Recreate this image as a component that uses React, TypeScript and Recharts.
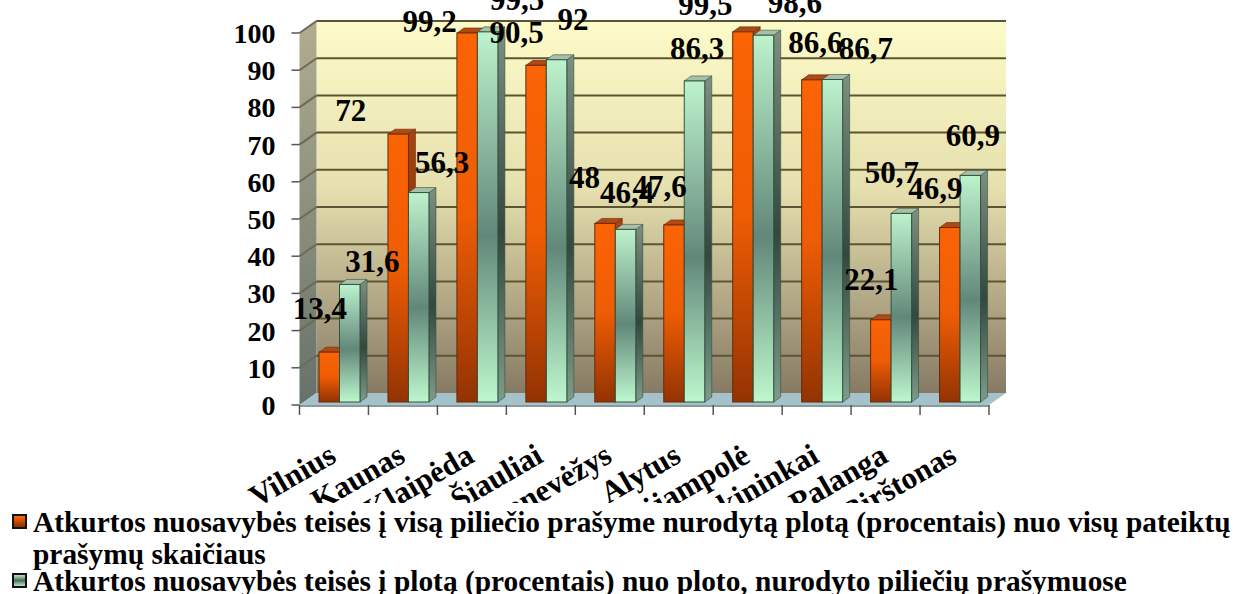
import { BarChart, Bar, XAxis, YAxis, CartesianGrid, Legend, LabelList } from "recharts";

const categories = ["Vilnius", "Kaunas", "Klaipėda", "Šiauliai", "Panevėžys", "Alytus", "Marijampolė", "Druskininkai", "Palanga", "Birštonas"];
const wholeArea = [13.4, 72, 99.2, 90.5, 48, 47.6, 99.5, 86.6, 22.1, 46.9];
const partArea = [31.6, 56.3, 99.5, 92, 46.4, 86.3, 98.6, 86.7, 50.7, 60.9];
const yTicks = [0, 10, 20, 30, 40, 50, 60, 70, 80, 90, 100];
const wholeName = "Atkurtos nuosavybės teisės į visą piliečio prašyme nurodytą plotą (procentais) nuo visų pateiktų prašymų skaičiaus";
const partName = "Atkurtos nuosavybės teisės į plotą (procentais) nuo ploto, nurodyto piliečių prašymuose";

// the old chart placed its value labels all over the place, so each one gets a nudge
const wholeNudge = [[-4, -47], [-42, -27], [-32, -15], [-14, -36], [-15, -49], [-9, -41], [-32, -30], [9, -40], [-4, -43], [-9, -42]];
const partNudge = [[28, -26], [29, -33], [35, -35], [22, -43], [7, -40], [8, -36], [37, -36], [39, -34], [-4, -44], [8, -43]];

const data = categories.map((name, i) => ({ name, whole: wholeArea[i], part: partArea[i] }));

const FONT = '"Liberation Serif", "Times New Roman", serif';
const W = 1234;
const H = 594;
const PLOT_L = 299.5;
const PLOT_R = 989;
const PLOT_T = 33;
const PLOT_B = 405;
const DEPTH_X = 17;
const DEPTH_Y = 12;
const STEP = (PLOT_R - PLOT_L) / categories.length;

// sits in its own svg under the chart, so the chart's grid lines stay on top of it
const Walls = () => (
  <svg width={W} height={H} style={{ position: "absolute", left: 0, top: 0 }}>
    <defs>
      <linearGradient id="wallFill" x1="0" y1="0" x2="0" y2="1">
        <stop offset="0" stopColor="#fdfbc9" />
        <stop offset="0.45" stopColor="#e6dfae" />
        <stop offset="1" stopColor="#877a64" />
      </linearGradient>
      <linearGradient id="sideFill" x1="0" y1="0" x2="0" y2="1">
        <stop offset="0" stopColor="#b1ad90" />
        <stop offset="1" stopColor="#66716a" />
      </linearGradient>
    </defs>
    <polygon
      points={`${PLOT_L + DEPTH_X},${PLOT_T - DEPTH_Y} ${PLOT_R + DEPTH_X},${PLOT_T - DEPTH_Y} ${PLOT_R + DEPTH_X},${PLOT_B - DEPTH_Y} ${PLOT_L + DEPTH_X},${PLOT_B - DEPTH_Y}`}
      fill="url(#wallFill)"
    />
    <polygon
      points={`${PLOT_L},${PLOT_T} ${PLOT_L + DEPTH_X},${PLOT_T - DEPTH_Y} ${PLOT_L + DEPTH_X},${PLOT_B - DEPTH_Y} ${PLOT_L},${PLOT_B}`}
      fill="url(#sideFill)"
    />
    <polygon
      points={`${PLOT_L},${PLOT_B} ${PLOT_L + DEPTH_X},${PLOT_B - DEPTH_Y} ${PLOT_R + DEPTH_X},${PLOT_B - DEPTH_Y} ${PLOT_R},${PLOT_B}`}
      fill="#a5c2cb"
    />
    <line x1={PLOT_L + DEPTH_X} x2={PLOT_R + DEPTH_X} y1={PLOT_T - DEPTH_Y} y2={PLOT_T - DEPTH_Y} stroke="#8b8b80" strokeWidth={2} />
    <line x1={PLOT_L} x2={PLOT_R} y1={PLOT_B + 1} y2={PLOT_B + 1} stroke="#8a9a9a" strokeWidth={2} />
  </svg>
);

const gridLine = (props: any) => {
  const { x1, x2, y1, key } = props;
  // nothing to draw on the floor line
  if (y1 >= PLOT_B - 1) return <g key={key} />;
  return (
    <g key={key}>
      <line x1={x1} y1={y1} x2={x1 + DEPTH_X} y2={y1 - DEPTH_Y} stroke="#6e6a56" strokeWidth={2} />
      <line x1={x1 + DEPTH_X} y1={y1 - DEPTH_Y} x2={x2 + DEPTH_X} y2={y1 - DEPTH_Y} stroke="#5c5534" strokeWidth={2} />
    </g>
  );
};

const makeBar = (front: string, side: string, top: string, edge: string) => (props: any) => {
  const { x, y, width, height } = props;
  const left = x + 5.5;
  const right = left + width;
  const up = y - 3;
  const low = up + height;
  const dx = 7;
  const dy = 5;
  return (
    <g>
      <polygon points={`${right},${up} ${right + dx},${up - dy} ${right + dx},${low - dy} ${right},${low}`} fill={side} stroke={edge} strokeWidth={0.6} />
      <polygon points={`${left},${up} ${left + dx},${up - dy} ${right + dx},${up - dy} ${right},${up}`} fill={top} stroke={edge} strokeWidth={0.6} />
      <rect x={left} y={up} width={width} height={height} fill={front} stroke={edge} strokeWidth={1} />
    </g>
  );
};

const OrangeBar = makeBar("url(#orangeFront)", "url(#orangeSide)", "#b04a12", "#6a2a08");
const GreenBar = makeBar("url(#greenFront)", "url(#greenSide)", "#a9bfa8", "#2f5342");

const nudgedLabel = (nudge: number[][]) => (props: any) => {
  const { x, y, width, value, index } = props;
  return (
    <text
      x={x + width / 2 + nudge[index][0]}
      y={y + nudge[index][1]}
      dy="0.34em"
      textAnchor="middle"
      fontFamily={FONT}
      fontWeight="bold"
      fontSize={31}
      fill="#000"
    >
      {String(value).replace(".", ",")}
    </text>
  );
};

const CategoryTick = (props: any) => {
  const { x, y, payload, index } = props;
  const left = x - STEP / 2;
  return (
    <g>
      <line x1={left} x2={left} y1={PLOT_B} y2={PLOT_B + 10} stroke="#555" strokeWidth={1.5} />
      {index === categories.length - 1 && (
        <line x1={x + STEP / 2} x2={x + STEP / 2} y1={PLOT_B} y2={PLOT_B + 10} stroke="#555" strokeWidth={1.5} />
      )}
      <text
        transform={`translate(${x + 4} ${y + 48}) rotate(-30)`}
        textAnchor="end"
        fontFamily={FONT}
        fontWeight="bold"
        fontSize={31}
        fill="#000"
      >
        {payload.value}
      </text>
    </g>
  );
};

const swatches = [
  "linear-gradient(#ff6a00, #8a3000)",
  "linear-gradient(#b9e8c2, #4f6f5c, #b9e8c2)",
];

const LegendBox = ({ payload }: any) => (
  <div style={{ background: "#fff", width: W, height: 91, position: "relative", fontFamily: FONT, fontWeight: "bold", fontSize: 29.4, color: "#000" }}>
    {(payload ?? []).map((entry: any, i: number) => (
      <div key={entry.value} style={{ position: "absolute", left: 33, top: i === 0 ? 3 : 62, width: 1198, lineHeight: "32px" }}>
        <span
          style={{
            position: "absolute",
            left: -21,
            top: 8,
            width: 11,
            height: 11,
            border: "2px solid #111",
            background: swatches[i],
          }}
        />
        {entry.value}
      </div>
    ))}
  </div>
);

export default function App() {
  return (
    <div style={{ position: "absolute", left: 0, top: 0, width: W, height: H, background: "#fff", overflow: "hidden" }}>
      <Walls />
      <BarChart
        width={W}
        height={H}
        data={data}
        barGap={0}
        barSize={20.5}
        margin={{ top: PLOT_T, right: W - PLOT_R, left: PLOT_L - 60, bottom: 38 }}
      >
        <defs>
          <linearGradient id="orangeFront" x1="0" y1="0" x2="0" y2="1">
            <stop offset="0" stopColor="#fb6405" />
            <stop offset="0.5" stopColor="#ee5c04" />
            <stop offset="1" stopColor="#933303" />
          </linearGradient>
          <linearGradient id="orangeSide" x1="0" y1="0" x2="0" y2="1">
            <stop offset="0" stopColor="#a8450f" />
            <stop offset="1" stopColor="#5e2206" />
          </linearGradient>
          <linearGradient id="greenFront" x1="0" y1="0" x2="0" y2="1">
            <stop offset="0" stopColor="#bdf3cc" />
            <stop offset="0.55" stopColor="#62877a" />
            <stop offset="1" stopColor="#bdf8cd" />
          </linearGradient>
          <linearGradient id="greenSide" x1="0" y1="0" x2="0" y2="1">
            <stop offset="0" stopColor="#7f8f80" />
            <stop offset="0.55" stopColor="#34483e" />
            <stop offset="1" stopColor="#7f9c8a" />
          </linearGradient>
        </defs>
        <CartesianGrid vertical={false} horizontal={gridLine} />
        <XAxis dataKey="name" height={60} axisLine={false} tickLine={false} interval={0} tick={<CategoryTick />} />
        <YAxis
          width={60}
          domain={[0, 100]}
          ticks={yTicks}
          interval={0}
          axisLine={false}
          tickSize={8}
          tickMargin={16}
          tickLine={{ stroke: "#555", strokeWidth: 1.5 }}
          tick={{ fill: "#000", fontFamily: FONT, fontWeight: "bold", fontSize: 28 }}
        />
        <Legend
          content={<LegendBox />}
          itemSorter={null}
          wrapperStyle={{ position: "absolute", left: 0, top: 503, bottom: "auto", width: W, height: 91 }}
        />
        <Bar dataKey="whole" name={wholeName} fill="#ee5c04" shape={OrangeBar} isAnimationActive={false}>
          <LabelList dataKey="whole" content={nudgedLabel(wholeNudge)} />
        </Bar>
        <Bar dataKey="part" name={partName} fill="#62877a" shape={GreenBar} isAnimationActive={false}>
          <LabelList dataKey="part" content={nudgedLabel(partNudge)} />
        </Bar>
      </BarChart>
    </div>
  );
}
